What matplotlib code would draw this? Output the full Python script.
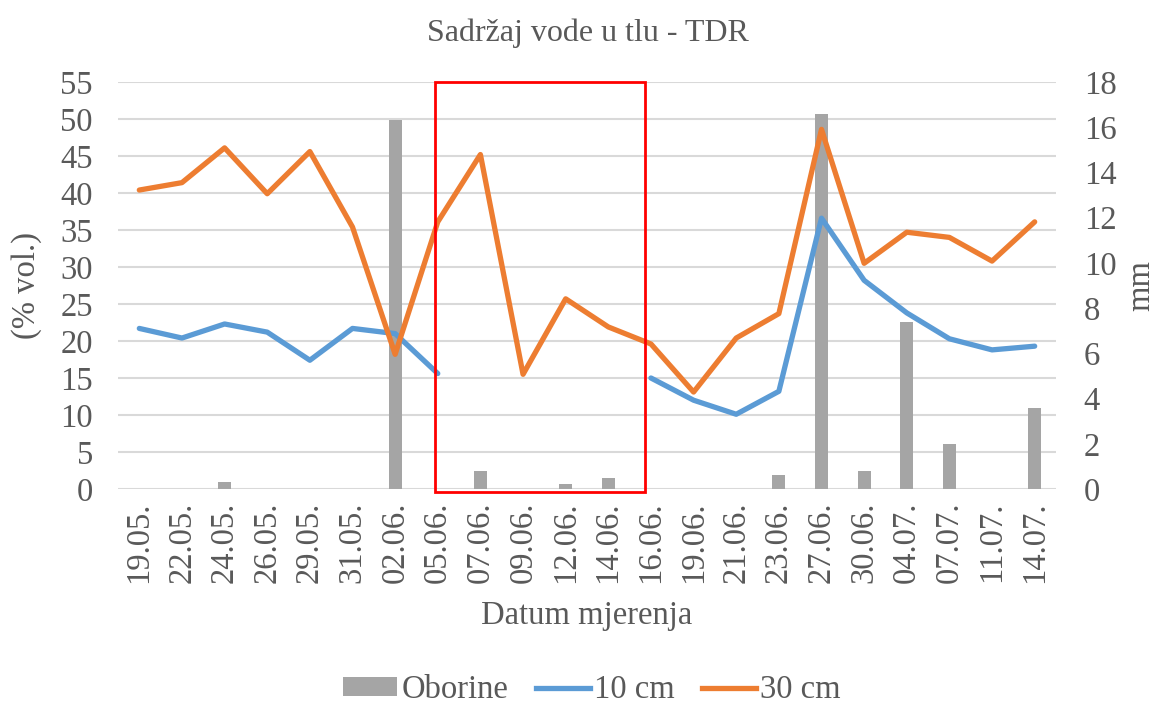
import matplotlib
matplotlib.use("Agg")
import matplotlib.pyplot as plt
import numpy as np
from matplotlib.patches import Patch, Rectangle
from matplotlib.lines import Line2D

# data
dates = ["19.05.", "22.05.", "24.05.", "26.05.", "29.05.", "31.05.", "02.06.",
         "05.06.", "07.06.", "09.06.", "12.06.", "14.06.", "16.06.", "19.06.",
         "21.06.", "23.06.", "27.06.", "30.06.", "04.07.", "07.07.", "11.07.", "14.07."]
oborine = [0, 0, 0.3, 0, 0, 0, 16.3, 0, 0.8, 0, 0.2, 0.5, 0, 0, 0, 0.6,
           16.6, 0.8, 7.4, 2.0, 0, 3.6]
cm10 = [21.7, 20.4, 22.3, 21.2, 17.4, 21.7, 21.0, 15.6, np.nan, np.nan, np.nan,
        np.nan, 15.0, 12.0, 10.1, 13.2, 36.6, 28.2, 23.8, 20.3, 18.8, 19.3]
cm30 = [40.4, 41.4, 46.1, 39.9, 45.6, 35.4, 18.2, 36.1, 45.2, 15.5, 25.7, 21.9,
        19.6, 13.1, 20.4, 23.7, 48.6, 30.5, 34.7, 34.0, 30.8, 36.1]

GRAY = "#A5A5A5"
BLUE = "#5B9BD5"
ORANGE = "#ED7D31"
TXT = "#595959"
FS = 23.5

plt.rcParams["font.family"] = ["Liberation Serif", "DejaVu Serif"]
plt.rcParams["text.color"] = TXT

fig = plt.figure(figsize=(11.58, 7.06), dpi=100)
ax = fig.add_axes([118 / 1158, 1 - 489 / 706, (1056 - 118) / 1158, (489 - 82) / 706])
ax2 = ax.twinx()   # bars, right scale
ax3 = ax.twinx()   # lines on top, left scale

x = np.arange(len(dates))

# left axis: grid + ticks
ax.set_ylim(0, 55)
ax.set_yticks(range(0, 56, 5))
ax.grid(axis="y", color="#D9D9D9", lw=1.5)
ax.set_xlim(-0.5, len(dates) - 0.5)
ax.set_xticks(x)
ax.set_xticklabels(dates, rotation=90, fontsize=FS, color=TXT)
ax.tick_params(axis="y", labelsize=FS, labelcolor=TXT, length=0, pad=18)
ax.tick_params(axis="x", length=0, pad=9)
for s in ax.spines.values():
    s.set_visible(False)

# right axis: precipitation bars
ax2.bar(x, oborine, width=0.31, color=GRAY, zorder=2)
ax2.set_ylim(0, 18)
ax2.set_yticks(range(0, 19, 2))
ax2.tick_params(axis="y", labelsize=FS, labelcolor=TXT, length=0, pad=20)
for s in ax2.spines.values():
    s.set_visible(False)

# lines
ax3.plot(x, cm10, color=BLUE, lw=3.8, solid_capstyle="round", solid_joinstyle="round")
ax3.plot(x, cm30, color=ORANGE, lw=3.8, solid_capstyle="round", solid_joinstyle="round")
ax3.set_ylim(0, 55)
ax3.set_yticks([])
for s in ax3.spines.values():
    s.set_visible(False)

# red highlight box
ax3.add_patch(Rectangle((6.93, -0.4), 11.85 - 6.93, 55.4, fill=False,
                        edgecolor="#FF0000", lw=2, clip_on=False, zorder=5))

ymid = 1 - 285 / 706
fig.text(27 / 1158, ymid, "(% vol.)", rotation=90, ha="center", va="center",
         fontsize=FS, color=TXT)
fig.text(1141 / 1158, ymid, "mm", rotation=90, ha="center", va="center",
         fontsize=FS, color=TXT)
fig.text(587 / 1158, 1 - 616 / 706, "Datum mjerenja", ha="center", va="center",
         fontsize=FS, color=TXT)
fig.text(588 / 1158, 1 - 33 / 706, "Sadržaj vode u tlu - TDR", ha="center",
         va="center", fontsize=23, color=TXT)

handles = [Patch(facecolor=GRAY, edgecolor="none"),
           Line2D([], [], color=BLUE, lw=3.8),
           Line2D([], [], color=ORANGE, lw=3.8)]
fig.legend(handles, ["Oborine", "10 cm", "30 cm"], loc="center",
           bbox_to_anchor=(592 / 1158, 1 - 690 / 706), ncol=3, frameon=False,
           fontsize=FS, handlelength=1.65, handleheight=0.52,
           handletextpad=0.12, columnspacing=0.85)

fig.savefig("out.png", dpi=100)
